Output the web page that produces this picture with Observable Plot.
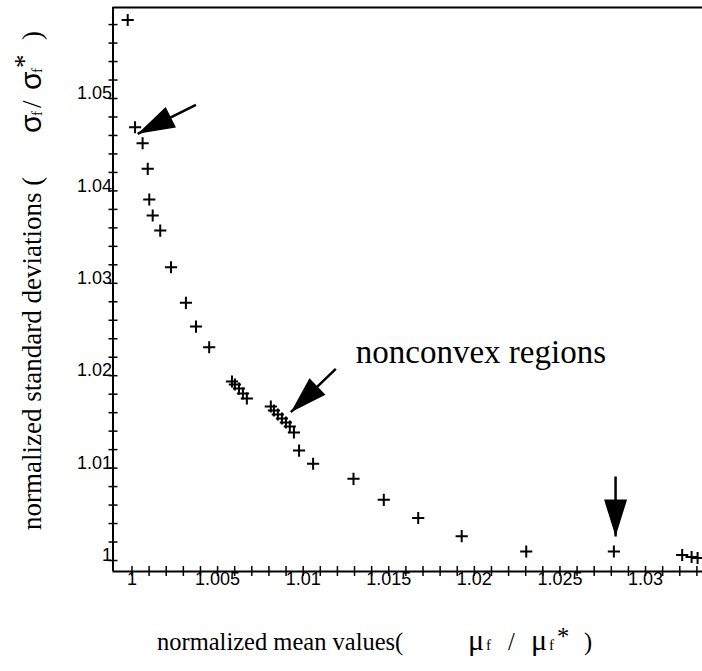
<!DOCTYPE html>
<html><head><meta charset="utf-8">
<script src="https://cdn.jsdelivr.net/npm/d3@7"></script>
<script src="https://cdn.jsdelivr.net/npm/@observablehq/plot@0.6"></script>
<style>
body{margin:0;background:#fff;overflow:hidden}
#chart svg{display:block}
</style>
</head><body><div id="chart"></div>
<script>
// Pareto-front points: normalized mean (x) vs normalized std deviation (y)
const muRatio = [0.99975, 1.00018, 1.00062, 1.00092, 1.00101, 1.00121, 1.00165, 1.00228, 1.00315, 1.00374, 1.00451,
  1.00584, 1.00601, 1.00625, 1.00648, 1.00671, 1.00811, 1.00829, 1.00852, 1.00876, 1.00899, 1.00922, 1.00946,
  1.00976, 1.01058, 1.01294, 1.01471, 1.01672, 1.01926, 1.02303, 1.02815, 1.03214, 1.03269, 1.03304];
const sigmaRatio = [1.0585, 1.04689, 1.04516, 1.04239, 1.03907, 1.03734, 1.03571, 1.03174, 1.02789, 1.02532, 1.02308,
  1.01937, 1.01905, 1.01861, 1.01807, 1.01753, 1.01667, 1.01623, 1.0158, 1.01537, 1.01494, 1.0145, 1.01385,
  1.0119, 1.01047, 1.00884, 1.00657, 1.0046, 1.00263, 1.00097, 1.00097, 1.0006, 1.00038, 1.00027];

const xDomain = [0.998891, 1.033327];
const yDomain = [0.998810, 1.059849];

const xTickValues = [1, 1.005, 1.01, 1.015, 1.02, 1.025, 1.03];
const xTickLabels = ["1", "1.005", "1.01", "1.015", "1.02", "1.025", "1.03"];
const yTickValues = [1, 1.01, 1.02, 1.03, 1.04, 1.05];
const yTickLabels = ["1", "1.01", "1.02", "1.03", "1.04", "1.05"];
const xMinorTicks = d3.range(0, 34).map(i => +(1 + i * 0.001).toFixed(3));
const yMinorTicks = d3.range(0, 30).map(i => +(1 + i * 0.002).toFixed(3));

// annotation arrows (data coordinates) and their drawing angle (degrees, screen)
const arrowTailX = [1.003735, 1.011907, 1.028249];
const arrowTailY = [1.04932, 1.020747, 1.009091];
const arrowTipX  = [1.000333, 1.009280, 1.028249];
const arrowTipY  = [1.04618, 1.016050, 1.002597];
const arrowAngle = [153.5, 136, 90];

const annotationLabel = ["nonconvex regions"];
const annotationX = [1.013074];
const annotationY = [1.02247];

const points = muRatio.map((m, i) => ({x: m, y: sigmaRatio[i]}));
const arrows = arrowTailX.map((d, i) => ({x1: d, y1: arrowTailY[i], x2: arrowTipX[i], y2: arrowTipY[i], a: arrowAngle[i]}));
const xLab = xTickValues.map((v, i) => ({v, t: xTickLabels[i]}));
const yLab = yTickValues.map((v, i) => ({v, t: yTickLabels[i]}));

function headSymbol(angleDeg) {
  const a = angleDeg * Math.PI / 180, L = 37, W = 11.5;
  const ux = Math.cos(a), uy = Math.sin(a);
  const bx = -L * ux, by = -L * uy, px = -uy, py = ux;
  return {draw(ctx) {
    ctx.moveTo(0, 0);
    ctx.lineTo(bx + W * px, by + W * py);
    ctx.lineTo(bx - W * px, by - W * py);
    ctx.closePath();
  }};
}

const W = 702, H = 671, mL = 112.5, mT = 7, mB = 100, mR = 0;
const frameH = H - mT - mB, frameW = W - mL - mR;
const tickFont = "'Liberation Sans', Arial, sans-serif";
const serif = "'Liberation Serif', 'Times New Roman', serif";

const plot = Plot.plot({
  width: W, height: H,
  marginLeft: mL, marginTop: mT, marginBottom: mB, marginRight: mR,
  x: {domain: xDomain, axis: null},
  y: {domain: yDomain, axis: null},
  style: {background: "#fff"},
  marks: [
    Plot.ruleX([xDomain[0]], {stroke: "#000", strokeWidth: 2}),
    Plot.ruleY([yDomain[1]], {stroke: "#000", strokeWidth: 2}),
    Plot.ruleY([yDomain[0]], {stroke: "#000", strokeWidth: 2}),
    Plot.ruleX(xMinorTicks, {x: d => d, stroke: "#000", strokeWidth: 1.5, insetTop: frameH - 5, insetBottom: -5}),
    Plot.ruleY(yMinorTicks, {y: d => d, stroke: "#000", strokeWidth: 1.5, insetLeft: -4, insetRight: frameW - 5}),
    Plot.text(xLab, {x: "v", text: "t", frameAnchor: "bottom", lineAnchor: "top", dy: 1,
      fontSize: 18, fontFamily: tickFont, fill: "#000"}),
    Plot.text(yLab, {y: "v", text: "t", frameAnchor: "left", textAnchor: "end", lineAnchor: "middle", dx: -1, dy: -5,
      fontSize: 18, fontFamily: tickFont, fill: "#000"}),
    Plot.dot(points, {x: "x", y: "y", symbol: "plus", r: 4, stroke: "#000", strokeWidth: 2}),
    Plot.link(arrows, {x1: "x1", y1: "y1", x2: "x2", y2: "y2", stroke: "#000", strokeWidth: 2.5}),
    ...arrows.map(a => Plot.dot([a], {x: "x2", y: "y2", symbol: headSymbol(a.a), r: 5, fill: "#000", stroke: "none"})),
    Plot.text(annotationLabel, {x: () => annotationX[0], y: () => annotationY[0], text: d => d, textAnchor: "start",
      lineAnchor: "middle", fontSize: 33, fontFamily: serif, fill: "#000"})
  ]
});

const svg = d3.select(plot);
// x-axis title (pieces positioned along the baseline)
const xt = svg.append("text").attr("y", 650).attr("text-anchor", "start")
  .style("font-family", serif).style("font-size", "24.5px").attr("fill", "#000").style("white-space", "pre");
xt.append("tspan").attr("x", 157).text("normalized mean values(");
xt.append("tspan").attr("x", 468).style("font-size", "30px").text("\u03bc");
xt.append("tspan").attr("x", 486).style("font-size", "15px").text("f");
xt.append("tspan").attr("x", 508).text("/");
xt.append("tspan").attr("x", 531).style("font-size", "30px").text("\u03bc");
xt.append("tspan").attr("x", 549).style("font-size", "15px").text("f");
xt.append("tspan").attr("x", 557).attr("dy", -5).text("*");
xt.append("tspan").attr("x", 584).attr("dy", 5).text(")");
// y-axis title (rotated, offsets measured upward from the start)
const yt = svg.append("text").attr("transform", "translate(41,530) rotate(-90)").attr("text-anchor", "start")
  .style("font-family", serif).style("font-size", "27px").attr("fill", "#000").style("white-space", "pre");
yt.append("tspan").attr("x", 0).text("normalized standard deviations (");
yt.append("tspan").attr("x", 397).style("font-family", tickFont).style("font-size", "30px").text("\u03c3");
yt.append("tspan").attr("x", 414).style("font-size", "15px").attr("dy", 1).text("f");
yt.append("tspan").attr("x", 422).attr("dy", -1).text("/");
yt.append("tspan").attr("x", 440).style("font-family", tickFont).style("font-size", "30px").text("\u03c3");
yt.append("tspan").attr("x", 457).style("font-size", "15px").attr("dy", 1).text("f");
yt.append("tspan").attr("x", 462).attr("dy", -9).text("*");
yt.append("tspan").attr("x", 490).attr("dy", 8).text(")");

document.getElementById("chart").appendChild(plot);
</script>
</body></html>
